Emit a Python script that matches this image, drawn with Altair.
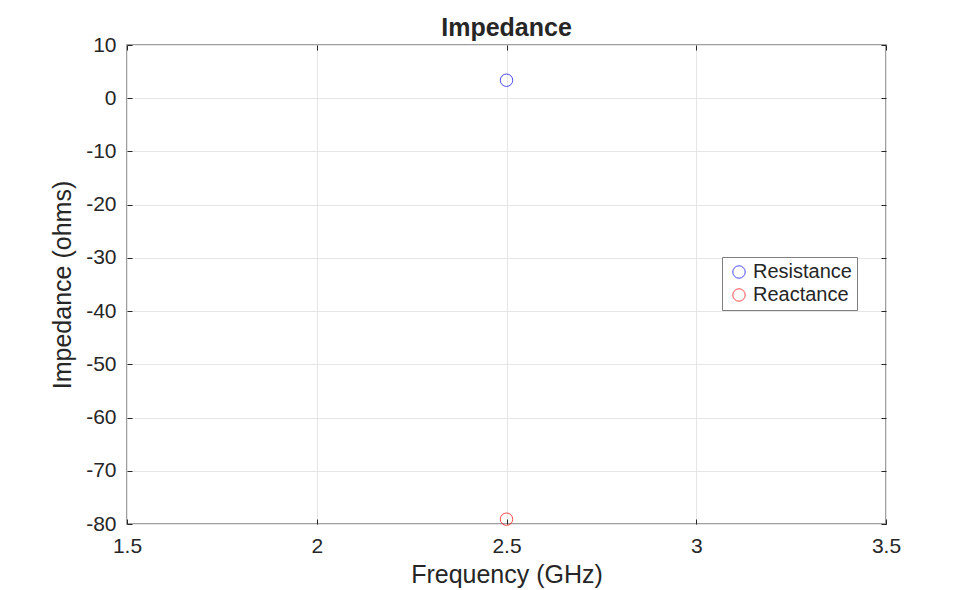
import pandas as pd
import altair as alt

# values
freq = [2.5, 2.5]
impedance = [3.38, -79.1]
series = ['Resistance', 'Reactance']

x_ticks = [1.5, 2, 2.5, 3, 3.5]
y_ticks = [10, 0, -10, -20, -30, -40, -50, -60, -70, -80]

df = pd.DataFrame({'freq': freq, 'z': impedance, 'series': series})

FONT = 'Liberation Sans'
INK = '#262626'

xs = alt.Scale(domain=[1.5, 3.5], nice=False, zero=False)
ys = alt.Scale(domain=[-80, 10], nice=False, zero=False)

pads = {'bottom': 11, 'left': 11, 'top': 0, 'right': 0}
tpads = {'bottom': 6, 'left': 10, 'top': 0, 'right': 0}

def ax(orient, values, title='', labels=True, grid=True):
    return alt.Axis(orient=orient, values=values, title=title, labels=labels, grid=grid,
                    domain=False, offset=-5, tickSize=5, tickColor=INK,
                    gridColor='#e5e5e5', labelPadding=pads[orient],
                    labelExpr="datum.value + ''", labelFlush=False, labelOverlap=False,
                    labelFont=FONT, labelFontSize=21, labelColor=INK,
                    titleFont=FONT, titleFontSize=25, titleColor=INK,
                    titleFontWeight='normal', titlePadding=tpads[orient])

points = alt.Chart(df).mark_point(shape='circle', filled=False, size=155, strokeWidth=1).encode(
    x=alt.X('freq:Q', scale=xs, axis=ax('bottom', x_ticks, 'Frequency (GHz)')),
    y=alt.Y('z:Q', scale=ys, axis=ax('left', y_ticks, 'Impedance (ohms)')),
    color=alt.Color('series:N', scale=alt.Scale(domain=series, range=['#0000ff', '#ff0000']),
                    legend=alt.Legend(title=None, orient='none', legendX=595, legendY=212,
                                      symbolType='circle', symbolSize=155, symbolStrokeWidth=1,
                                      symbolFillColor='white', symbolOffset=2,
                                      labelFont=FONT, labelFontSize=20, labelColor=INK,
                                      strokeColor='#7f7f7f', padding=5, rowPadding=3,
                                      fillColor='white')),
)

mirror = alt.Chart(df).mark_point(opacity=0).encode(
    x=alt.X('freq:Q', scale=xs, axis=ax('top', x_ticks, labels=False, grid=False)),
    y=alt.Y('z:Q', scale=ys, axis=ax('right', y_ticks, labels=False, grid=False)),
)

chart = alt.layer(points, mirror).resolve_axis(x='independent', y='independent').properties(
    width=759, height=479,
    title=alt.Title('Impedance', font=FONT, fontSize=25, fontWeight='bold', color=INK, offset=-7),
    autosize=alt.AutoSizeParams(type='none'),
    padding={'left': 119, 'top': 37, 'right': 80, 'bottom': 70},
).configure_view(stroke='#808080', strokeWidth=1.5)

chart.save("out.html", embed_options={"renderer": "svg", "actions": False})
